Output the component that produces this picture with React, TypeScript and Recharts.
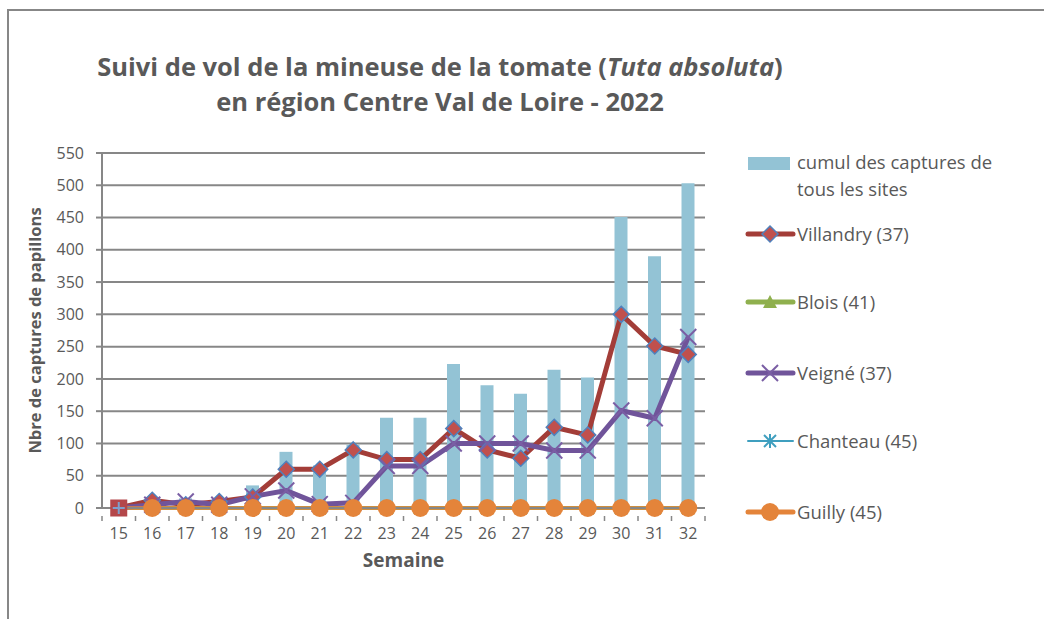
import React from 'react';
import { ComposedChart, Bar, Line, XAxis, YAxis, CartesianGrid } from 'recharts';

const weeks = ['15', '16', '17', '18', '19', '20', '21', '22', '23', '24', '25', '26', '27', '28', '29', '30', '31', '32'];
const cumulValues = [0, 17, 15, 15, 35, 87, 66, 98, 140, 140, 223, 190, 177, 214, 202, 451, 390, 503];
const villandryValues = [0, 12, 5, 10, 17, 60, 60, 90, 75, 75, 123, 90, 77, 125, 113, 300, 251, 238];
const bloisValues = [0, 0, 0, 0, 0, 0, 0, 0, 0, 0, 0, 0, 0, 0, 0, 0, 0, 0];
const veigneValues = [0, 5, 10, 5, 18, 27, 6, 8, 65, 65, 100, 100, 100, 89, 89, 151, 139, 265];
const chanteauValues = [0, 0, 0, 0, 0, 0, 0, 0, 0, 0, 0, 0, 0, 0, 0, 0, 0, 0];
const guillyValues = [0, 0, 0, 0, 0, 0, 0, 0, 0, 0, 0, 0, 0, 0, 0, 0, 0, 0];
const yTicks = [0, 50, 100, 150, 200, 250, 300, 350, 400, 450, 500, 550];

const data = weeks.map((w, i) => ({
  week: w,
  cumul: cumulValues[i],
  villandry: villandryValues[i],
  blois: bloisValues[i],
  veigne: veigneValues[i],
  chanteau: chanteauValues[i],
  guilly: guillyValues[i],
}));

const FONT = '"Open Sans", "Liberation Sans", sans-serif';
const TXT = '#595959';
const GRID = '#878787';
const C_BAR = '#93C3D5';
const C_VIL = '#A33D38';
const C_VIL_M = '#C0504D';
const C_BLUE = '#4F81BD';
const C_BLOIS = '#8FB04E';
const C_VEI = '#70549A';
const C_VEI_M = '#7A5EA4';
const C_CHA = '#3F9FBF';
const C_GUI = '#E4843A';

const diamond = (cx: number, cy: number, k?: any) => (
  <polygon key={k} points={`${cx},${cy - 8} ${cx + 8},${cy} ${cx},${cy + 8} ${cx - 8},${cy}`} fill={C_VIL_M} stroke={C_BLUE} strokeWidth={1.5} />
);
const cross = (cx: number, cy: number, color: string, k?: any) => (
  <g key={k}>
    <line x1={cx - 8} y1={cy - 8} x2={cx + 8} y2={cy + 8} stroke={color} strokeWidth={2} />
    <line x1={cx - 8} y1={cy + 8} x2={cx + 8} y2={cy - 8} stroke={color} strokeWidth={2} />
  </g>
);
const triangle = (cx: number, cy: number, k?: any) => (
  <polygon key={k} points={`${cx},${cy - 7} ${cx + 7},${cy + 6} ${cx - 7},${cy + 6}`} fill={C_BLOIS} />
);
const asterisk = (cx: number, cy: number, k?: any) => (
  <g key={k} stroke={C_CHA} strokeWidth={2}>
    <line x1={cx - 6} y1={cy - 6} x2={cx + 6} y2={cy + 6} />
    <line x1={cx - 6} y1={cy + 6} x2={cx + 6} y2={cy - 6} />
    <line x1={cx} y1={cy - 7} x2={cx} y2={cy + 7} />
  </g>
);
const circle = (cx: number, cy: number, k?: any) => <circle key={k} cx={cx} cy={cy} r={9} fill={C_GUI} />;

const VilDot = (p: any) => {
  const { cx, cy, index } = p;
  if (cx == null || cy == null) return <g key={index} />;
  if (index === 0) {
    return (
      <g key={index}>
        <rect x={cx - 8.5} y={cy - 8.5} width={17} height={17} fill="#B4474A" />
        <line x1={cx - 6} y1={cy} x2={cx + 6} y2={cy} stroke="#7F9FCB" strokeWidth={2} />
        <line x1={cx} y1={cy - 6} x2={cx} y2={cy + 6} stroke="#7F9FCB" strokeWidth={2} />
      </g>
    );
  }
  return diamond(cx, cy, index);
};
const VeiDot = (p: any) => (p.index === 0 ? <g key={p.index} /> : cross(p.cx, p.cy, C_VEI_M, p.index));
const BloDot = (p: any) => (p.index === 0 ? <g key={p.index} /> : triangle(p.cx, p.cy, p.index));
const ChaDot = (p: any) => (p.index === 0 ? <g key={p.index} /> : asterisk(p.cx, p.cy, p.index));
const GuiDot = (p: any) => (p.index === 0 ? <g key={p.index} /> : circle(p.cx, p.cy, p.index));

const XTick = (props: any) => {
  const { x, y, payload, index, visibleTicksCount } = props;
  const off = payload.offset || 0;
  const isLast = index === visibleTicksCount - 1;
  return (
    <g>
      <line x1={x - off} y1={y} x2={x - off} y2={y + 5} stroke={GRID} strokeWidth={1.5} />
      {isLast && <line x1={x + off} y1={y} x2={x + off} y2={y + 5} stroke={GRID} strokeWidth={1.5} />}
      <text x={x} y={y + 23} textAnchor="middle" fill={TXT} fontSize={16} fontFamily={FONT}>
        {payload.value}
      </text>
    </g>
  );
};

const legendItems = [
  { key: 'villandry', label: 'Villandry (37)', y: 89 },
  { key: 'blois', label: 'Blois (41)', y: 157 },
  { key: 'veigne', label: 'Veigné (37)', y: 228 },
  { key: 'chanteau', label: 'Chanteau (45)', y: 296 },
  { key: 'guilly', label: 'Guilly (45)', y: 367 },
];

const LegendContent = () => (
  <svg width={295} height={390} style={{ display: 'block' }}>
    <rect x={3} y={12} width={42} height={13} fill={C_BAR} />
    <text x={52} y={24} fill={TXT} fontSize={18.5} fontFamily={FONT}>cumul des captures de</text>
    <text x={52} y={51} fill={TXT} fontSize={18.5} fontFamily={FONT}>tous les sites</text>
    {legendItems.map((it) => {
      const y = it.y;
      let lineColor = C_VIL;
      let w = 5;
      let marker: any = null;
      if (it.key === 'villandry') { lineColor = C_VIL; marker = diamond(25, y); }
      if (it.key === 'blois') { lineColor = C_BLOIS; marker = triangle(25, y); }
      if (it.key === 'veigne') { lineColor = C_VEI; marker = cross(25, y, C_VEI_M); }
      if (it.key === 'chanteau') { lineColor = C_CHA; w = 2; marker = asterisk(25, y); }
      if (it.key === 'guilly') { lineColor = C_GUI; marker = circle(25, y); }
      return (
        <g key={it.key}>
          <line x1={3} y1={y} x2={48} y2={y} stroke={lineColor} strokeWidth={w} strokeLinecap="round" />
          {marker}
          <text x={52} y={y + 7} fill={TXT} fontSize={18.5} fontFamily={FONT}>{it.label}</text>
        </g>
      );
    })}
  </svg>
);

export default function App() {
  return (
    <div style={{ position: 'absolute', left: 0, top: 0, width: 1044, height: 619, background: '#fff', overflow: 'hidden' }}>
      <div style={{ position: 'absolute', left: 7, top: 9, right: -10, bottom: -10, borderLeft: `2px solid ${GRID}`, borderTop: `2px solid ${GRID}` }} />
      <div style={{ position: 'absolute', left: 0, width: 880, top: 49, textAlign: 'center', fontFamily: FONT, fontWeight: 700, fontSize: 25.5, color: TXT, lineHeight: '35px' }}>
        <div>Suivi de vol de la mineuse de la tomate (<span style={{ fontStyle: 'italic' }}>Tuta absoluta</span>)</div>
        <div>en région Centre Val de Loire - 2022</div>
      </div>
      <div style={{ position: 'absolute', left: 0, top: 0 }}>
        <ComposedChart width={1044} height={619} data={data} margin={{ top: 153, right: 339, bottom: 81, left: 42 }} barSize={13}>
          <CartesianGrid vertical={false} stroke={GRID} strokeWidth={2} />
          <XAxis
            dataKey="week"
            axisLine={{ stroke: GRID, strokeWidth: 2 }}
            tickLine={false}
            tick={<XTick />}
            interval={0}
            height={30}
            label={{ value: 'Semaine', position: 'insideBottom', offset: -29, fill: TXT, fontSize: 19, fontWeight: 700, fontFamily: FONT }}
          />
          <YAxis
            domain={[0, 550]}
            ticks={yTicks}
            interval={0}
            width={60}
            axisLine={{ stroke: GRID, strokeWidth: 2 }}
            tickLine={{ stroke: GRID, strokeWidth: 2 }}
            tickSize={6}
            tickMargin={12}
            tick={{ fill: TXT, fontSize: 16, fontFamily: FONT }}
            label={{ value: 'Nbre de captures de papillons', angle: -90, position: 'insideLeft', offset: -7, fill: TXT, fontSize: 16.5, fontWeight: 700, fontFamily: FONT, style: { textAnchor: 'middle' } }}
          />
          <Bar dataKey="cumul" fill={C_BAR} isAnimationActive={false} />
          <Line dataKey="villandry" stroke={C_VIL} strokeWidth={5} dot={<VilDot />} activeDot={false} isAnimationActive={false} />
          <Line dataKey="blois" stroke={C_BLOIS} strokeWidth={4} dot={<BloDot />} activeDot={false} isAnimationActive={false} />
          <Line dataKey="veigne" stroke={C_VEI} strokeWidth={5} dot={<VeiDot />} activeDot={false} isAnimationActive={false} />
          <Line dataKey="chanteau" stroke={C_CHA} strokeWidth={2} dot={<ChaDot />} activeDot={false} isAnimationActive={false} />
          <Line dataKey="guilly" stroke={C_GUI} strokeWidth={3.5} dot={<GuiDot />} activeDot={false} isAnimationActive={false} />
        </ComposedChart>
      </div>
      <div style={{ position: 'absolute', left: 745, top: 145 }}>
        <LegendContent />
      </div>
    </div>
  );
}
